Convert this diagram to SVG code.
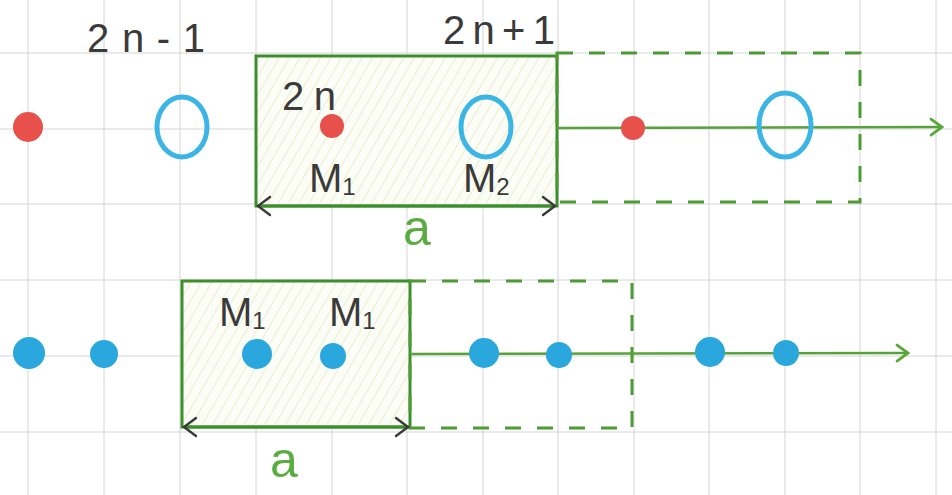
<svg xmlns="http://www.w3.org/2000/svg" width="952" height="495" viewBox="0 0 952 495">
<defs>
<pattern id="hatch" patternUnits="userSpaceOnUse" width="9" height="9" patternTransform="rotate(30)">
<rect width="9" height="9" fill="#fdfdf7"/>
<line x1="0" y1="0" x2="0" y2="9" stroke="#dfe8b8" stroke-width="1.4"/>
</pattern>
<marker id="gArrow" markerWidth="16" markerHeight="20" refX="13" refY="10" orient="auto" markerUnits="userSpaceOnUse">
<path d="M2,2 L13,10 L2,18" fill="none" stroke="#5aa83c" stroke-width="2.8" stroke-linecap="round"/>
</marker>
<marker id="kArrowEnd" markerWidth="18" markerHeight="24" refX="15" refY="12" orient="auto" markerUnits="userSpaceOnUse">
<path d="M3,3 L15,12 L3,21" fill="none" stroke="#3a3a3a" stroke-width="2.4" stroke-linecap="round"/>
</marker>
<marker id="kArrowStart" markerWidth="18" markerHeight="24" refX="3" refY="12" orient="auto" markerUnits="userSpaceOnUse">
<path d="M15,3 L3,12 L15,21" fill="none" stroke="#3a3a3a" stroke-width="2.4" stroke-linecap="round"/>
</marker>
</defs>
<style>
.grid line{stroke:#d4d4d4;stroke-width:1}
.box{fill:url(#hatch);stroke:#3c8f2c;stroke-width:3}
.dash{fill:none;stroke:#4f9a34;stroke-width:3;stroke-dasharray:16 16}
.axis{stroke:#56a33a;stroke-width:2.5;fill:none}
.dim{stroke:#3c8f2c;stroke-width:3;fill:none}
.red{fill:#e8504c}
.blue{fill:#2aa7dc}
.ring{fill:none;stroke:#3bb5e6;stroke-width:5}
.lbl{font-family:"Liberation Sans",sans-serif;font-size:40px;fill:#3a3a3a}
.sub{font-size:24px}
.a{font-family:"Liberation Sans",sans-serif;font-size:50px;fill:#5aac40}
</style>
<rect width="952" height="495" fill="#ffffff"/>
<g class="grid">
<line x1="28" y1="0" x2="28" y2="495"/><line x1="104" y1="0" x2="104" y2="495"/><line x1="180" y1="0" x2="180" y2="495"/><line x1="256" y1="0" x2="256" y2="495"/><line x1="332" y1="0" x2="332" y2="495"/><line x1="407" y1="0" x2="407" y2="495"/><line x1="483" y1="0" x2="483" y2="495"/><line x1="558" y1="0" x2="558" y2="495"/><line x1="634" y1="0" x2="634" y2="495"/><line x1="709" y1="0" x2="709" y2="495"/><line x1="785" y1="0" x2="785" y2="495"/><line x1="860" y1="0" x2="860" y2="495"/><line x1="936" y1="0" x2="936" y2="495"/>
<line x1="0" y1="53" x2="952" y2="53"/><line x1="0" y1="129" x2="952" y2="129"/><line x1="0" y1="204" x2="952" y2="204"/><line x1="0" y1="280" x2="952" y2="280"/><line x1="0" y1="356" x2="952" y2="356"/><line x1="0" y1="432" x2="952" y2="432"/>
</g>
<g id="cell-top">
<rect class="box" x="256" y="56" width="301" height="150"/>
</g>
<g id="cell-top-next">
<rect class="dash" x="557" y="53" width="303" height="149"/>
</g>
<g id="cell-bottom">
<rect class="box" x="182" y="281" width="228" height="146"/>
</g>
<g id="cell-bottom-next">
<rect class="dash" x="410" y="281" width="222" height="147"/>
</g>
<g id="connectors">
<line class="axis" x1="557" y1="128" x2="942" y2="127" marker-end="url(#gArrow)"/>
<line class="axis" x1="410" y1="354" x2="908" y2="353" marker-end="url(#gArrow)"/>
<line class="dim" x1="258" y1="206" x2="555" y2="206" marker-start="url(#kArrowStart)" marker-end="url(#kArrowEnd)"/>
<line class="dim" x1="184" y1="427" x2="408" y2="427" marker-start="url(#kArrowStart)" marker-end="url(#kArrowEnd)"/>
</g>
<g id="atoms-top">
<circle class="red" cx="28" cy="127" r="15"/>
<ellipse class="ring" cx="182" cy="127" rx="25" ry="30"/>
<circle class="red" cx="332" cy="126" r="12"/>
<ellipse class="ring" cx="486" cy="127" rx="25" ry="30"/>
<circle class="red" cx="633" cy="128" r="12"/>
<ellipse class="ring" cx="785" cy="125" rx="26" ry="32"/>
</g>
<g id="atoms-bottom">
<circle class="blue" cx="29" cy="353" r="16"/>
<circle class="blue" cx="104" cy="354" r="14"/>
<circle class="blue" cx="257" cy="354" r="15"/>
<circle class="blue" cx="333" cy="356" r="13"/>
<circle class="blue" cx="484" cy="353" r="15"/>
<circle class="blue" cx="559" cy="355" r="13"/>
<circle class="blue" cx="710" cy="352" r="15"/>
<circle class="blue" cx="786" cy="353" r="13"/>
</g>
<g id="labels">
<text class="lbl" x="87" y="52" textLength="118" lengthAdjust="spacing">2n-1</text>
<text class="lbl" x="443" y="44" textLength="112" lengthAdjust="spacing">2n+1</text>
<text class="lbl" x="282" y="110" textLength="54" lengthAdjust="spacing">2n</text>
<text class="lbl" x="309" y="192">M<tspan class="sub" dy="3">1</tspan></text>
<text class="lbl" x="463" y="192">M<tspan class="sub" dy="3">2</tspan></text>
<text class="lbl" x="219" y="326">M<tspan class="sub" dy="3">1</tspan></text>
<text class="lbl" x="329" y="326">M<tspan class="sub" dy="3">1</tspan></text>
<text class="a" x="403" y="245">a</text>
<text class="a" x="270" y="477">a</text>
</g>
</svg>
